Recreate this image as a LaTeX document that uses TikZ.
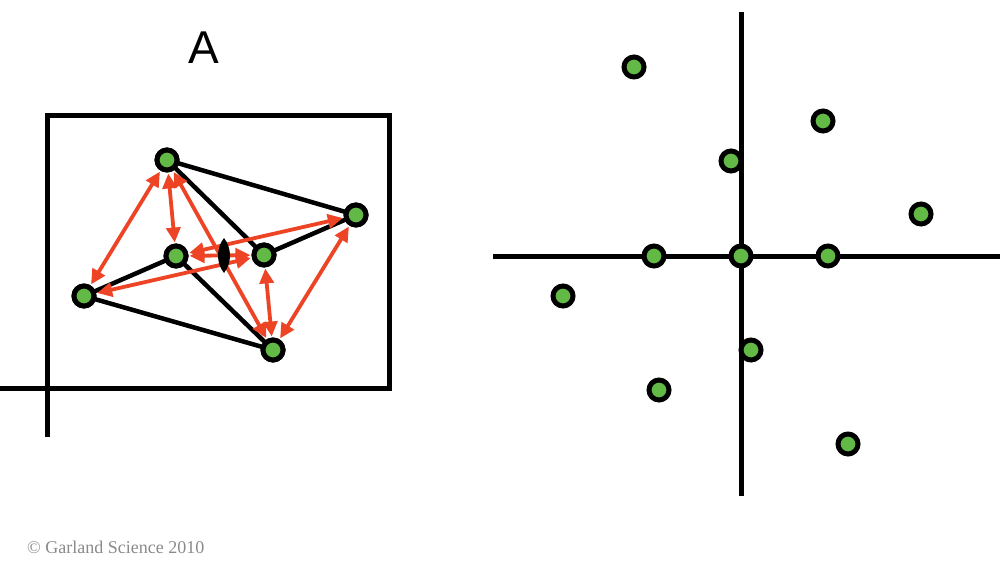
\documentclass[tikz,border=0pt]{standalone}
\usepackage{fontspec}
\setmainfont{Liberation Serif}
\newfontfamily\labelfont{Liberation Sans}
\usetikzlibrary{arrows.meta}
\definecolor{dotgreen}{HTML}{63B946}
\definecolor{arrred}{HTML}{EE4426}
\definecolor{txtgray}{HTML}{8A8A8A}
\tikzset{
  dot/.style={circle, draw=black, line width=5pt, fill=dotgreen, minimum size=20pt, inner sep=0pt},
  bond/.style={line width=4.5pt, black},
  axis/.style={line width=5pt, black},
  sym/.style={line width=3.8pt, arrred, {Triangle[length=15pt,width=14pt]}-{Triangle[length=15pt,width=14pt]}, shorten >=1pt, shorten <=1pt}
}
\begin{document}
\begin{tikzpicture}[x=1pt,y=-1pt]
\useasboundingbox (0,0) rectangle (1000,569);
% left panel frame
\coordinate (fa) at (47,437);
\coordinate (fb) at (47,116);
\coordinate (fc) at (389,116);
\coordinate (fd) at (389,388);
\coordinate (fe) at (0,388);
\draw[axis] (fa) -- (fb) -- (fc) -- (fd) -- (fe);
\node[font=\labelfont\fontsize{46}{46}\selectfont] (A) at (204,48) {A};
% atoms
\path (167,160) coordinate (pt) (356,215) coordinate (pr) (176,256) coordinate (pc1)
      (264,255) coordinate (pc2) (84,296) coordinate (pl) (273,350) coordinate (pb);
\node[dot] (t) at (pt) {};
\node[dot] (r) at (pr) {};
\node[dot] (c1) at (pc1) {};
\node[dot] (c2) at (pc2) {};
\node[dot] (l) at (pl) {};
\node[dot] (b) at (pb) {};
% bonds (drawn between centres, dots redrawn on top)
\draw[bond] (pt) -- (pr);
\draw[bond] (pt) -- (pc2);
\draw[bond] (pc2) -- (pr);
\draw[bond] (pl) -- (pc1);
\draw[bond] (pc1) -- (pb);
\draw[bond] (pl) -- (pb);
% symmetry arrows
\draw[sym] (t) -- (l);
\draw[sym] (t) -- (c1);
\draw[sym] (t) -- (b);
\draw[sym] (c1) -- (c2);
\draw[sym] (c1) -- (r);
\draw[sym] (l) -- (c2);
\draw[sym] (c2) -- (b);
\draw[sym] (r) -- (b);
% two-fold axis symbol
\fill[black] (224,238) .. controls (232,248) and (232,263) .. (224,273)
             .. controls (216,263) and (216,248) .. (224,238);
% redraw atoms on top
\node[dot] at (pt) {};
\node[dot] at (pr) {};
\node[dot] at (pc1) {};
\node[dot] at (pc2) {};
\node[dot] at (pl) {};
\node[dot] at (pb) {};
% right panel
\coordinate (vt) at (741,12);
\coordinate (vb) at (741,496);
\coordinate (hl) at (493,256);
\coordinate (hr) at (1000,256);
\draw[axis] (vt) -- (vb);
\draw[axis] (hl) -- (hr);
\node[dot] (d1) at (634,67) {};
\node[dot] (d2) at (823,121) {};
\node[dot] (d3) at (731,161) {};
\node[dot] (d4) at (921,214) {};
\node[dot] (d5) at (654,256) {};
\node[dot] (d6) at (741,256) {};
\node[dot] (d7) at (828,256) {};
\node[dot] (d8) at (563,296) {};
\node[dot] (d9) at (751,350) {};
\node[dot] (d10) at (659,390) {};
\node[dot] (d11) at (848,444) {};
% credit
\node[anchor=base west, inner sep=0pt, text=txtgray, font=\fontsize{18}{18}\selectfont] (cr) at (27,553) {© Garland Science 2010};
\end{tikzpicture}
\end{document}
